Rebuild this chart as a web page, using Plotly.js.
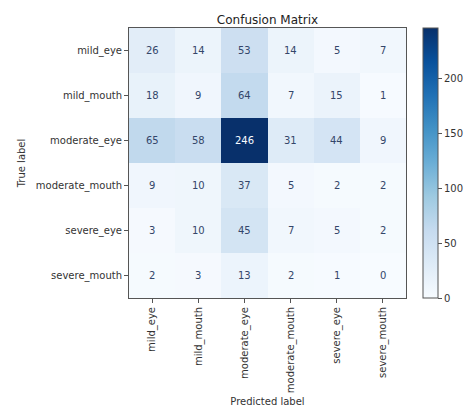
<!DOCTYPE html>
<html>
<head>
<meta charset="utf-8">
<script src="https://cdn.plot.ly/plotly-3.0.1.min.js"></script>
<style>html,body{margin:0;padding:0;background:#fff;}#chart{width:464px;height:407px;}</style>
</head>
<body>
<div id="chart"></div>
<script>
const labels = ["mild_eye","mild_mouth","moderate_eye","moderate_mouth","severe_eye","severe_mouth"];
const matrix = [
  [26, 14, 53, 14, 5, 7],
  [18, 9, 64, 7, 15, 1],
  [65, 58, 246, 31, 44, 9],
  [9, 10, 37, 5, 2, 2],
  [3, 10, 45, 7, 5, 2],
  [2, 3, 13, 2, 1, 0]
];
const cbTicks = [0, 50, 100, 150, 200];

const blues = [
  [0.0, "#f7fbff"], [0.125, "#deebf7"], [0.25, "#c6dbef"], [0.375, "#9ecae1"],
  [0.5, "#6baed6"], [0.625, "#4292c6"], [0.75, "#2171b5"], [0.875, "#08519c"], [1.0, "#08306b"]
];

let zmax = 0, zmin = Infinity;
matrix.forEach(r => r.forEach(v => { zmax = Math.max(zmax, v); zmin = Math.min(zmin, v); }));
const thresh = (zmax + zmin) / 2;

const annotations = [];
matrix.forEach((row, i) => row.forEach((v, j) => {
  annotations.push({
    x: labels[j], y: labels[i], xref: "x", yref: "y", text: String(v), showarrow: false,
    font: {family: "DejaVu Sans", size: 10, color: v > thresh ? "#f7fbff" : "#34466a"}
  });
}));

const trace = {
  type: "heatmap", z: matrix, x: labels, y: labels, colorscale: blues, zmin: zmin, zmax: zmax,
  xgap: 0, ygap: 0, hoverinfo: "none",
  colorbar: {
    xref: "container", x: 0.9116, xanchor: "left", y: 0.5, yanchor: "middle", len: 1, lenmode: "fraction",
    thickness: 15, thicknessmode: "pixels", outlinewidth: 1, outlinecolor: "#555",
    tickvals: cbTicks, ticks: "outside", ticklen: 4, tickcolor: "#555",
    tickfont: {family: "DejaVu Sans", size: 10, color: "#333"}, xpad: 0, ypad: 0
  }
};

const axisCommon = {
  showgrid: false, zeroline: false, showline: true, mirror: true, linecolor: "#555", linewidth: 1,
  ticks: "outside", ticklen: 4, tickcolor: "#555",
  tickfont: {family: "DejaVu Sans", size: 10, color: "#333"}
};

const layout = {
  width: 464, height: 407,
  margin: {l: 129, r: 58, t: 28, b: 109, pad: 0, autoexpand: false},
  paper_bgcolor: "#fff", plot_bgcolor: "#fff",
  title: {text: "Confusion Matrix", font: {family: "DejaVu Sans", size: 12, color: "#222"}, x: 0.5, xanchor: "center", xref: "paper", y: 1, yref: "paper", yanchor: "bottom", pad: {b: 4}},
  xaxis: Object.assign({}, axisCommon, {tickangle: -90, title: {text: "Predicted label", font: {family: "DejaVu Sans", size: 10, color: "#333"}, standoff: 6}}),
  yaxis: Object.assign({}, axisCommon, {autorange: "reversed", title: {text: "True label", font: {family: "DejaVu Sans", size: 10, color: "#333"}, standoff: 8}}),
  annotations: annotations,
  font: {family: "DejaVu Sans"}
};

Plotly.newPlot("chart", [trace], layout, {displayModeBar: false, staticPlot: true});
</script>
</body>
</html>
